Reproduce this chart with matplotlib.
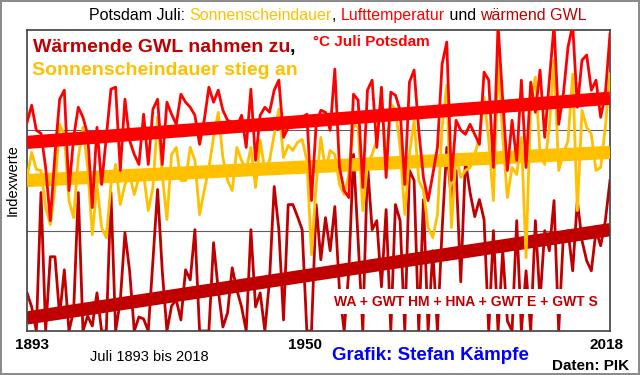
"""
Potsdam July: sunshine duration, air temperature and warming weather types (GWL), 1893-2018.
"""
import numpy as np
import matplotlib
matplotlib.use('Agg')
import matplotlib.pyplot as plt
import matplotlib.transforms as mtransforms

plt.rcParams['font.family'] = ['Liberation Sans', 'DejaVu Sans']

years = np.arange(1893, 2019)

# index values (axis 0..300, grid at 100 and 200)
temp = [208, 225, 200, 197, 163, 110, 176, 231, 240, 140, 193, 223, 213, 196, 123, 203,
        146, 193, 241, 243, 160, 231, 190, 176, 166, 216, 166, 221, 231, 166, 228, 216,
        206, 236, 228, 223, 215, 186, 210, 243, 228, 240, 220, 210, 208, 203, 215, 183,
        241, 170, 215, 223, 218, 240, 250, 193, 203, 206, 211, 213, 216, 130, 206, 220,
        218, 200, 261, 163, 140, 133, 236, 230, 143, 240, 250, 183, 243, 153, 238, 235,
        220, 146, 248, 260, 200, 153, 130, 156, 183, 266, 288, 150, 210, 200, 196, 206,
        196, 186, 258, 250, 163, 305, 230, 160, 210, 170, 250, 163, 248, 218, 260, 193,
        250, 305, 206, 236, 283, 305, 223, 270, 275, 240, 250, 213, 236, 296]
sun = [153, 178, 161, 160, 123, 106, 143, 206, 196, 130, 113, 173, 203, 163, 96, 146,
       103, 93, 146, 166, 126, 146, 156, 136, 153, 156, 120, 143, 213, 156, 111, 176,
       183, 150, 150, 183, 170, 116, 140, 163, 193, 218, 173, 150, 140, 183, 170, 160,
       183, 143, 190, 160, 170, 196, 221, 173, 185, 180, 188, 191, 170, 76, 146, 193,
       160, 180, 176, 146, 136, 156, 206, 203, 120, 166, 176, 190, 236, 163, 226, 221,
       183, 116, 176, 210, 150, 140, 103, 93, 116, 203, 245, 103, 176, 153, 160, 163,
       176, 193, 233, 190, 130, 270, 193, 133, 163, 156, 193, 73, 230, 253, 176, 166,
       203, 270, 160, 176, 190, 256, 120, 220, 203, 196, 160, 163, 203, 256]
gwl = [38, 24, 0, 138, 0, 74, 74, 15, 61, 0, 20, 138, 0, 15, 5, 38,
       0, 0, 138, 0, 30, 98, 60, 0, 14, 12, 0, 70, 141, 60, 0, 25,
       31, 11, 61, 51, 101, 0, 0, 0, 88, 41, 4, 18, 63, 41, 24, 0,
       101, 24, 38, 0, 51, 144, 101, 11, 126, 126, 114, 101, 0, 0, 126, 71,
       113, 80, 124, 40, 0, 60, 176, 90, 0, 166, 101, 110, 44, 121, 0, 126,
       110, 0, 160, 150, 0, 131, 0, 80, 0, 101, 183, 130, 160, 49, 170, 138,
       114, 131, 111, 0, 100, 0, 80, 10, 0, 110, 0, 60, 0, 110, 30, 100,
       80, 130, 0, 95, 100, 60, 130, 90, 70, 60, 100, 85, 110, 150]

# linear trend lines as drawn in the chart: value in 1893 and in 2018
trend_years = [1893, 2018]
trend_temp = [188, 232]
trend_sun = [150, 178]
trend_gwl = [13, 101]

tick_years = [1893, 1950, 2018]

C_TEMP = '#FF0000'
C_SUN = '#FFC000'
C_GWL = '#C00000'

fig = plt.figure(figsize=(6.4, 3.75), dpi=100)
fig.patch.set_edgecolor('#8c8c8c')
fig.patch.set_linewidth(1.5)
ax = fig.add_axes([27 / 640, 44 / 375, 583 / 640, 301 / 375])

ax.plot(years, gwl, color=C_GWL, lw=2.0, zorder=1)
ax.plot(trend_years, trend_gwl, color=C_GWL, lw=9.5, zorder=2, solid_capstyle='butt')
ax.plot(years, sun, color=C_SUN, lw=2.0, zorder=3)
ax.plot(trend_years, trend_sun, color=C_SUN, lw=9.5, zorder=4, solid_capstyle='butt')
ax.plot(years, temp, color=C_TEMP, lw=2.0, zorder=5)
ax.plot(trend_years, trend_temp, color=C_TEMP, lw=9.5, zorder=6, solid_capstyle='butt')

ax.set_xlim(1893, 2018)
ax.set_ylim(0, 300)
ax.set_yticks([100, 200])
ax.set_yticklabels([])
ax.tick_params(axis='y', length=0)
ax.grid(axis='y', color='#606060', lw=0.8)
ax.set_axisbelow(True)
ax.set_xticks(tick_years)
ax.set_xticklabels([str(y) for y in tick_years], fontsize=11, fontweight='bold')
ax.tick_params(axis='x', length=0, pad=5)
# Excel puts the year labels a little off the category points
for lbl, dx in zip(ax.get_xticklabels(), [5, 12, -3]):
    lbl.set_transform(lbl.get_transform() +
                      mtransforms.ScaledTranslation(dx / 100, 0, fig.dpi_scale_trans))
for sp in ax.spines.values():
    sp.set_color('#404040')
    sp.set_linewidth(1.2)
ax.set_ylabel('Indexwerte', fontsize=10.5, labelpad=2)

# in-plot annotations
w_txt = ax.text(1894.2, 278, 'Wärmende GWL nahmen zu', color=C_GWL, fontsize=14,
                fontweight='bold', va='baseline', zorder=10)
ax.text(1894, 255, 'Sonnenscheindauer stieg an', color=C_SUN, fontsize=14,
        fontweight='bold', va='baseline', zorder=10)
ax.text(1954.3, 284, '°C Juli Potsdam', color=C_TEMP, fontsize=11,
        fontweight='bold', va='baseline', zorder=10)
ax.text(1987, 29, 'WA + GWT HM + HNA + GWT E + GWT S', color=C_GWL, fontsize=10,
        fontweight='bold', ha='center', va='center', zorder=10,
        bbox=dict(facecolor='white', edgecolor='none', pad=4))
plt.annotate(',', xy=(1, 0), xycoords=w_txt, va='bottom', color='black',
             fontsize=14, fontweight='bold', annotation_clip=False)

# title in coloured pieces, chained left to right
parts = [('Potsdam Juli: ', 'black'), ('Sonnenscheindauer', C_SUN), (', ', 'black'),
         ('Lufttemperatur', C_TEMP), (' und ', 'black'), ('wärmend GWL', C_GWL)]
prev = fig.text(89 / 640, 1 - 23 / 375, parts[0][0], color=parts[0][1],
                fontsize=11.5, va='bottom')
for s, c in parts[1:]:
    prev = plt.annotate(s, xy=(1, 0), xycoords=prev, va='bottom', color=c,
                        fontsize=11.5, annotation_clip=False)

fig.text(90 / 640, 1 - 357 / 375, 'Juli 1893 bis 2018', fontsize=10.5, va='center')
fig.text(332 / 640, 1 - 356 / 375, 'Grafik: Stefan Kämpfe', color='#0000FF',
         fontsize=13.5, fontweight='bold', va='center')
fig.text(552 / 640, 1 - 366 / 375, 'Daten: PIK', fontsize=11, fontweight='bold',
         va='center')

fig.savefig('out.png', dpi=100)
